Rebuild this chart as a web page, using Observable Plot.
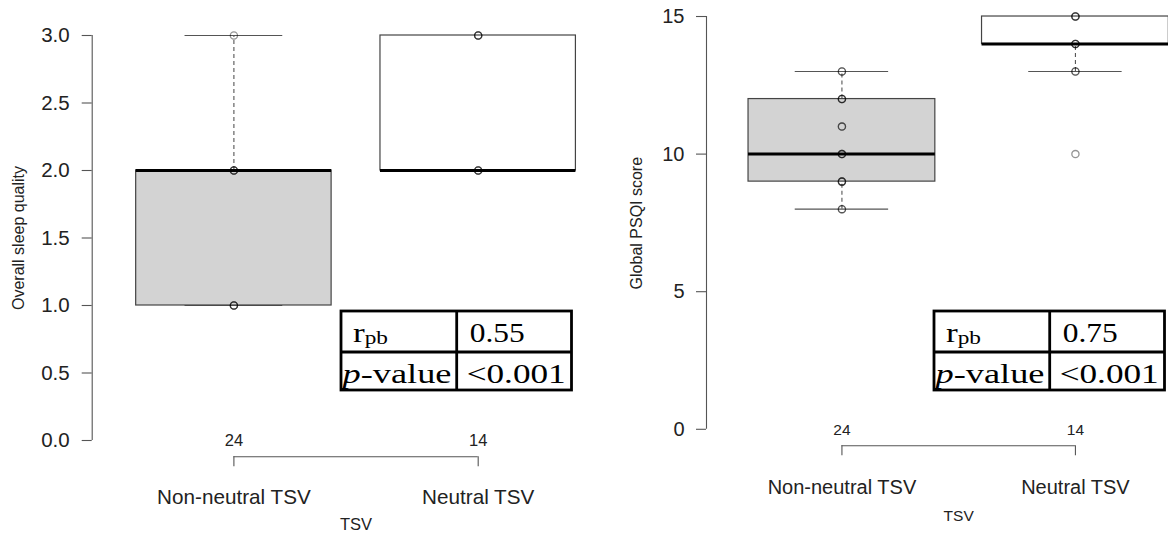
<!DOCTYPE html>
<html>
<head>
<meta charset="utf-8">
<script src="https://cdn.jsdelivr.net/npm/d3@7"></script>
<script src="https://cdn.jsdelivr.net/npm/@observablehq/plot@0.6"></script>
<style>
  html, body { margin: 0; padding: 0; background: #fff; }
  #figure { position: relative; width: 1168px; height: 538px; overflow: hidden; background: #fff; }
  .panel { position: absolute; top: 0; }
  .panel svg { display: block; }
</style>
</head>
<body>
<div id="figure">
  <div class="panel" id="sleep" style="left:0px;width:590px;height:538px"></div>
  <div class="panel" id="psqi" style="left:590px;width:578px;height:538px"></div>
</div>
<script>
// Groups shared by both panels
const tsvGroups = ["Non-neutral TSV", "Neutral TSV"];
const tsvCounts = [24, 14];
const tsvFills = ["#d3d3d3", "#ffffff"];
const statLabels = ["r", "p-value"];

// Overall sleep quality: box statistics and observed points
const sleepLow = [1, 2];
const sleepQ1 = [1, 2];
const sleepMedian = [2, 2];
const sleepQ3 = [2, 3];
const sleepHigh = [3, 3];
const sleepPointGroup = [1, 1, 1, 1, 1, 1, 1, 2, 2, 2, 2, 2, 2];
const sleepPointValue = [3, 2, 2, 2, 1, 1, 1, 3, 3, 3, 2, 2, 2];
const sleepTicks = [0, 0.5, 1, 1.5, 2, 2.5, 3];
const sleepStats = ["0.55", "<0.001"];

// Global PSQI score: box statistics and observed points
const psqiLow = [8, 13];
const psqiQ1 = [9, 14];
const psqiMedian = [10, 14];
const psqiQ3 = [12, 15];
const psqiHigh = [13, 15];
const psqiPointGroup = [1, 1, 1, 1, 1, 1, 1, 1, 1, 1, 1, 1, 1, 1, 1, 2, 2, 2, 2, 2, 2, 2, 2, 2];
const psqiPointValue = [13, 13, 12, 12, 12, 11, 11, 10, 10, 10, 9, 9, 9, 8, 8, 15, 15, 15, 14, 14, 14, 13, 13, 10];
const psqiTicks = [0, 5, 10, 15];
const psqiStats = ["0.75", "<0.001"];

const sansFont = "'Liberation Sans', Arial, Helvetica, sans-serif";
const serifFont = "'Liberation Serif', 'Times New Roman', serif";
const axisGrey = "#555";
const textDark = "#222";

function boxPanel(opts) {
  const L = opts.layout;
  const boxes = tsvGroups.map((name, k) => ({
    i: k + 1, name, count: tsvCounts[k], fill: tsvFills[k],
    low: opts.low[k], q1: opts.q1[k], median: opts.median[k], q3: opts.q3[k], high: opts.high[k]
  }));
  const points = opts.pointValue.map((v, k) => ({i: opts.pointGroup[k], v}));

  // R-style limits: groups at 1..n, padded by half a slot, then 4% extension
  const n = tsvGroups.length;
  const xExt = n * 0.04;
  const xDomain = [0.5 - xExt, n + 0.5 + xExt];
  const yMin = d3.min(opts.ticks), yMax = d3.max(opts.ticks);
  const yExt = (yMax - yMin) * 0.04;
  const yDomain = [yMin - yExt, yMax + yExt];
  const half = 0.4, cap = 0.2;

  const svg = Plot.plot({
    width: L.width,
    height: L.height,
    marginLeft: L.left,
    marginRight: 0,
    marginTop: Math.max(0, L.top),
    marginBottom: L.height - L.bottom,
    x: {domain: xDomain, range: [L.left, L.left + (xDomain[1] - xDomain[0]) * L.step]},
    y: {domain: yDomain, range: [L.bottom, L.top]},
    color: {type: "identity"},
    style: {fontFamily: sansFont, background: "transparent", overflow: "visible"},
    marks: [
      // whiskers and staples
      Plot.ruleX(boxes, {x: "i", y1: "q3", y2: "high", stroke: axisGrey, strokeWidth: 1.1, strokeDasharray: "4,3"}),
      Plot.ruleX(boxes, {x: "i", y1: "low", y2: "q1", stroke: axisGrey, strokeWidth: 1.1, strokeDasharray: "4,3"}),
      Plot.ruleY(boxes, {y: "high", x1: d => d.i - cap, x2: d => d.i + cap, stroke: axisGrey, strokeWidth: 1.1}),
      Plot.ruleY(boxes, {y: "low", x1: d => d.i - cap, x2: d => d.i + cap, stroke: axisGrey, strokeWidth: 1.1}),
      // boxes and medians
      Plot.rect(boxes, {x1: d => d.i - half, x2: d => d.i + half, y1: "q1", y2: "q3", fill: "fill", stroke: "#444", strokeWidth: 1.2}),
      Plot.ruleY(boxes, {y: "median", x1: d => d.i - half, x2: d => d.i + half, stroke: "#000", strokeWidth: 3}),
      // observations
      Plot.dot(points, {x: "i", y: "v", r: 3.6, stroke: "#000", strokeOpacity: 0.42, strokeWidth: 1.3, fill: "none"}),
      // y axis
      Plot.ruleX([xDomain[0]], {y1: yMin, y2: yMax, stroke: axisGrey, strokeWidth: 1.1}),
      Plot.axisY({ticks: opts.ticks, tickFormat: opts.tickFormat, tickSize: 10, tickPadding: L.tickPad,
                  fontSize: L.tickFont, stroke: axisGrey, strokeWidth: 1.1, fill: textDark, label: null}),
      // x axis bracket and group labels
      Plot.ruleY([yDomain[0]], {x1: 1, x2: n, stroke: axisGrey, strokeWidth: 1.1}),
      Plot.axisX({ticks: d3.range(1, n + 1), tickFormat: d => tsvGroups[d - 1], tickSize: 10, tickPadding: L.xPad,
                  fontSize: L.catFont, stroke: axisGrey, strokeWidth: 1.1, fill: textDark, label: null}),
      Plot.text(boxes, {x: "i", text: d => String(d.count), frameAnchor: "bottom", lineAnchor: "middle",
                        dy: L.countDy, fontSize: L.smallFont, fill: textDark}),
      Plot.text(["TSV"], {x: (1 + n) / 2, frameAnchor: "bottom", lineAnchor: "middle", textAnchor: "middle",
                          dy: L.titleDy, fontSize: L.smallFont, fill: textDark}),
      Plot.text([opts.yLabel], {frameAnchor: "left", rotate: -90, textAnchor: "middle", lineAnchor: "middle",
                                dx: L.yLabelDx, fontSize: 16, fill: textDark})
    ]
  });

  drawStats(svg, opts.stats, L.table);
  return svg;
}

// Small correlation table drawn inside the chart
function drawStats(svg, stats, t) {
  const g = d3.select(svg).append("g")
    .attr("font-family", serifFont)
    .attr("text-anchor", "start")
    .attr("fill", "#000");
  const line = (x1, y1, x2, y2) => g.append("line")
    .attr("x1", x1).attr("y1", y1).attr("x2", x2).attr("y2", y2)
    .attr("stroke", "#000").attr("stroke-width", 2.8);
  g.append("rect")
    .attr("x", t.x0).attr("y", t.y0)
    .attr("width", t.x2 - t.x0).attr("height", t.y2 - t.y0)
    .attr("fill", "#fff").attr("stroke", "#000").attr("stroke-width", 2.8);
  line(t.x1, t.y0, t.x1, t.y2);
  line(t.x0, t.y1, t.x2, t.y1);

  const fit = (sel, w) => sel.attr("textLength", w).attr("lengthAdjust", "spacingAndGlyphs");

  const r = g.append("text").attr("x", t.x0 + 12).attr("y", t.base1).attr("font-size", t.font);
  r.append("tspan").text(statLabels[0]);
  r.append("tspan").attr("font-size", t.font * 0.66).attr("dy", 2).text("pb");
  fit(r, 35);

  const p = g.append("text").attr("x", t.x0 + 1.5).attr("y", t.base2).attr("font-size", t.font);
  p.append("tspan").attr("font-style", "italic").text(statLabels[1].slice(0, 1));
  p.append("tspan").text(statLabels[1].slice(1));
  fit(p, 109);

  fit(g.append("text").attr("x", t.x1 + 13).attr("y", t.base1).attr("font-size", t.font).text(stats[0]), 55);
  fit(g.append("text").attr("x", t.x1 + 10).attr("y", t.base2).attr("font-size", t.font).text(stats[1]), 99);
}

document.getElementById("sleep").appendChild(boxPanel({
  low: sleepLow, q1: sleepQ1, median: sleepMedian, q3: sleepQ3, high: sleepHigh,
  pointGroup: sleepPointGroup, pointValue: sleepPointValue,
  ticks: sleepTicks, tickFormat: d3.format(".1f"),
  yLabel: "Overall sleep quality", stats: sleepStats,
  layout: {
    width: 590, height: 538, left: 91.7, step: 244.3, top: 18.8, bottom: 456.2,
    tickPad: 12.5, xPad: 22.4, countDy: -16, titleDy: 68, yLabelDx: -73,
    tickFont: 20.5, catFont: 20.7, smallFont: 16.5,
    table: {x0: 341, x1: 456.7, x2: 571.5, y0: 311, y1: 352, y2: 390, base1: 341.5, base2: 383, font: 28}
  }
}));

document.getElementById("psqi").appendChild(boxPanel({
  low: psqiLow, q1: psqiQ1, median: psqiMedian, q3: psqiQ3, high: psqiHigh,
  pointGroup: psqiPointGroup, pointValue: psqiPointValue,
  ticks: psqiTicks, tickFormat: d3.format("d"),
  yLabel: "Global PSQI score", stats: psqiStats,
  layout: {
    width: 578, height: 538, left: 116, step: 233.5, top: -0.5, bottom: 445.3,
    tickPad: 12, xPad: 23.7, countDy: -15.5, titleDy: 70, yLabelDx: -70,
    tickFont: 20, catFont: 20, smallFont: 15.5,
    table: {x0: 344, x1: 459.7, x2: 574.5, y0: 311, y1: 352, y2: 390, base1: 341.5, base2: 383, font: 28}
  }
}));
</script>
</body>
</html>
